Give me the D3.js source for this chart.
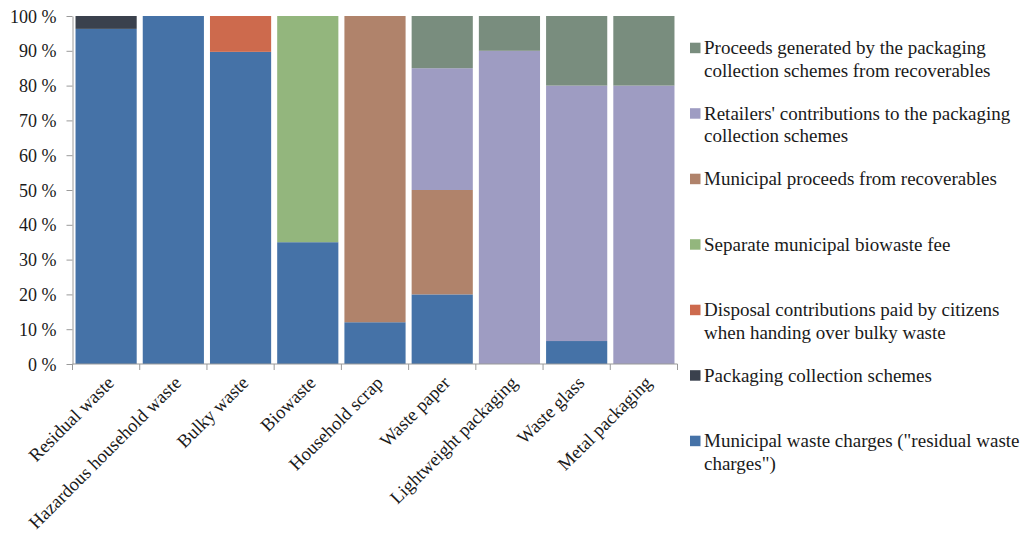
<!DOCTYPE html>
<html>
<head>
<meta charset="utf-8">
<script src="https://cdn.jsdelivr.net/npm/d3@7"></script>
<style>
  html, body { margin: 0; padding: 0; background: #fff; }
</style>
</head>
<body>
<svg id="chart" width="1023" height="538"></svg>
<script>
// Waste stream categories
const categories = ["Residual waste", "Hazardous household waste", "Bulky waste", "Biowaste",
  "Household scrap", "Waste paper", "Lightweight packaging", "Waste glass", "Metal packaging"];

// Financing shares (%) per category, bottom-to-top stacking order
const municipalCharges   = [96.3, 100, 89.7, 35, 12, 20, 0, 6.6, 0];
const packagingSchemes   = [3.7, 0, 0, 0, 0, 0, 0, 0, 0];
const disposalContrib    = [0, 0, 10.3, 0, 0, 0, 0, 0, 0];
const biowasteFee        = [0, 0, 0, 65, 0, 0, 0, 0, 0];
const municipalProceeds  = [0, 0, 0, 0, 88, 30, 0, 0, 0];
const retailersContrib   = [0, 0, 0, 0, 0, 35, 90, 73.4, 80];
const schemesProceeds    = [0, 0, 0, 0, 0, 15, 10, 20, 20];

const seriesNames = [
  "Municipal waste charges (\"residual waste charges\")",
  "Packaging collection schemes",
  "Disposal contributions paid by citizens when handing over bulky waste",
  "Separate municipal biowaste fee",
  "Municipal proceeds from recoverables",
  "Retailers' contributions to the packaging collection schemes",
  "Proceeds generated by the packaging collection schemes from recoverables"
];
// Legend text split into lines
const legendLines = [
  ["Municipal waste charges (\"residual waste", "charges\")"],
  ["Packaging collection schemes"],
  ["Disposal contributions paid by citizens", "when handing over bulky waste"],
  ["Separate municipal biowaste fee"],
  ["Municipal proceeds from recoverables"],
  ["Retailers' contributions to the packaging", "collection schemes"],
  ["Proceeds generated by the packaging", "collection schemes from recoverables"]
];
const seriesColors = ["#4572A7", "#3A414D", "#CD6A4D", "#93B67D", "#B0836B", "#9E9CC2", "#798D7E"];
const yTicks = [0, 10, 20, 30, 40, 50, 60, 70, 80, 90, 100];

const FONT = "\"Liberation Serif\"";

const seriesValues = [municipalCharges, packagingSchemes, disposalContrib, biowasteFee,
  municipalProceeds, retailersContrib, schemesProceeds];

const rows = categories.map((c, i) => {
  const r = { category: c };
  seriesNames.forEach((s, k) => { r[s] = seriesValues[k][i]; });
  return r;
});

const svg = d3.select("#chart");
const margin = { left: 72.5, right: 345.5, top: 16, bottom: 174 };
const W = 1023, H = 538;

const x = d3.scaleBand().domain(categories)
  .range([margin.left, W - margin.right]).paddingInner(0.09).paddingOuter(0.045);
const y = d3.scaleLinear().domain([0, 100]).range([H - margin.bottom, margin.top]);

const stacked = d3.stack().keys(seriesNames)(rows);

// Bars
svg.append("g").selectAll("g").data(stacked).join("g")
  .attr("fill", (d, i) => seriesColors[i])
  .selectAll("rect").data(d => d.filter(p => p[1] - p[0] > 0)).join("rect")
  .attr("x", p => x(p.data.category))
  .attr("width", x.bandwidth())
  .attr("y", p => y(p[1]))
  .attr("height", p => y(p[0]) - y(p[1]));

function serif(sel, size) {
  return sel.style("font-family", FONT).style("font-size", size + "px").style("fill", "#1a1a1a");
}

// Y axis
const yAxis = svg.append("g").attr("transform", `translate(${margin.left},0)`)
  .call(d3.axisLeft(y).tickValues(yTicks).tickFormat(d => d + " %").tickSize(6).tickSizeOuter(0));
yAxis.attr("font-family", null).attr("font-size", null);
yAxis.select(".domain").attr("stroke", "#9a9a9a");
yAxis.selectAll(".tick line").attr("stroke", "#9a9a9a");
serif(yAxis.selectAll(".tick text").attr("x", -16).attr("dy", "0.34em"), 18);

// X axis with ticks at category boundaries
const xAxisG = svg.append("g").attr("transform", `translate(0,${y(0)})`);
xAxisG.append("line").attr("x1", margin.left).attr("x2", W - margin.right)
  .attr("stroke", "#9a9a9a");
const bounds = d3.range(categories.length + 1)
  .map(i => margin.left + (W - margin.right - margin.left) * i / categories.length);
xAxisG.selectAll("line.tk").data(bounds).join("line").attr("class", "tk")
  .attr("x1", d => d).attr("x2", d => d).attr("y1", 0).attr("y2", 6).attr("stroke", "#9a9a9a");
serif(xAxisG.selectAll("text").data(categories).join("text")
  .attr("transform", d => `translate(${x(d) + x.bandwidth() / 2 + 9},${20}) rotate(-45)`)
  .attr("text-anchor", "end"), 18.5)
  .text(d => d);

// Legend, top entry is the last stacked series; entries start at even intervals
const lg = svg.append("g");
const order = d3.range(seriesNames.length).reverse();
const slot = 65.5, lineH = 22.5;
order.forEach((k, j) => {
  const lines = legendLines[k];
  const first = 48 + j * slot;
  lg.append("rect").attr("x", 690).attr("y", first - 5.3).attr("width", 10.5).attr("height", 10.5)
    .attr("fill", seriesColors[k]);
  const t = serif(lg.append("text").attr("x", 704).attr("y", first + 6.3), 19);
  lines.forEach((ln, li) => {
    t.append("tspan").attr("x", 704).attr("dy", li === 0 ? 0 : lineH).text(ln);
  });
});
</script>
</body>
</html>
